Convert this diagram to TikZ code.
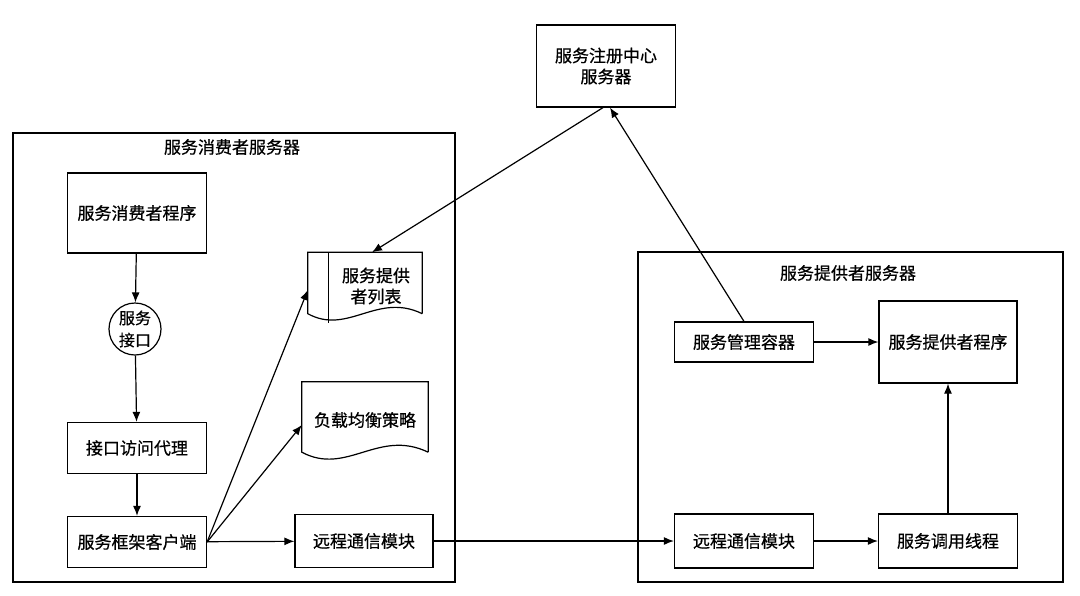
\documentclass[tikz,border=0pt]{standalone}
\usepackage{fontspec}
\newfontfamily\cjk[FakeBold=0.6]{Noto Sans CJK SC}
\usepackage{tikz}
\usetikzlibrary{arrows.meta, calc}

\tikzset{
    box/.style={draw, line width=1.2pt, rectangle, inner sep=0pt, align=center},
    docbox/.style={rectangle, inner sep=0pt, align=center},
    frame/.style={draw, line width=1.2pt},
    link/.style={line width=1.2pt, -{Latex[length=10pt,width=8pt]}},
}

\begin{document}
\begin{tikzpicture}[x=1pt, y=-1pt, font=\cjk\fontsize{17}{21}\selectfont]
        \useasboundingbox (0,0) rectangle (1080,595);

        % registry
        \node[box, minimum width=139pt, minimum height=82pt] (reg) at (606, 66) {服务注册中心\\服务器};

        % consumer side
        \draw[frame] (13, 133) rectangle (455, 582);
        \node (ctitle) at (232, 147) {服务消费者服务器};
        \node[box, minimum width=139pt, minimum height=80pt] (prog) at (137, 213) {服务消费者程序};
        \node[box, circle, minimum size=52pt, font=\cjk\fontsize{16}{22}\selectfont] (iface) at (135, 329) {服务\\接口};
        \node[box, minimum width=139pt, minimum height=51pt] (proxy) at (137, 448) {接口访问代理};
        \node[box, minimum width=139pt, minimum height=51pt] (client) at (137, 542) {服务框架客户端};
        \node[box, minimum width=138pt, minimum height=53pt] (rc1) at (364, 541) {远程通信模块};

        \node[docbox, minimum width=114pt, minimum height=61pt] (list) at (365, 283) {};
        \node[align=center] (listtxt) at (376, 286) {服务提供\\者列表};
        \draw[frame] (list.south east) -- (list.north east) -- (list.north west) -- (list.south west)
            .. controls ($(list.south west)+(40,22)$) and ($(list.south east)+(-45,-22)$) .. (list.south east);
        \draw[frame] ($(list.north west)+(21,0)$) -- ($(list.south west)+(21,9)$);

        \node[docbox, minimum width=126pt, minimum height=70pt] (lb) at (365, 417) {};
        \node (lbtxt) at (365, 420) {负载均衡策略};
        \draw[frame] (lb.south east) -- (lb.north east) -- (lb.north west) -- (lb.south west)
            .. controls ($(lb.south west)+(45,24)$) and ($(lb.south east)+(-50,-24)$) .. (lb.south east);

        % provider side
        \draw[frame] (638, 252) rectangle (1063, 582);
        \node (ptitle) at (848, 273) {服务提供者服务器};
        \node[box, minimum width=139pt, minimum height=40pt] (mgr) at (744, 342) {服务管理容器};
        \node[box, minimum width=138pt, minimum height=82pt] (pprog) at (948, 342) {服务提供者程序};
        \node[box, minimum width=139pt, minimum height=54pt] (rc2) at (744, 541) {远程通信模块};
        \node[box, minimum width=139pt, minimum height=54pt] (invoke) at (948, 541) {服务调用线程};

        % connectors
        \draw[link] (prog) -- (iface);
        \draw[link] (iface) -- (proxy);
        \draw[link] (proxy) -- (client);
        \draw[link] (client) -- (rc1);
        \draw[link] (client.east) -- ($(list.west)+(0,7)$);
        \draw[link] (client.east) -- ($(lb.west)+(0,8)$);
        \draw[link] (rc1) -- (rc2);
        \draw[link] (rc2) -- (invoke);
        \draw[link] (invoke) -- (pprog);
        \draw[link] (mgr) -- (pprog);
        \draw[link] (mgr.north) -- ($(reg.south)+(4,0)$);
        \draw[link] ($(reg.south)+(-3,0)$) -- ($(list.north)+(7,0)$);

    \end{tikzpicture}
\end{document}
